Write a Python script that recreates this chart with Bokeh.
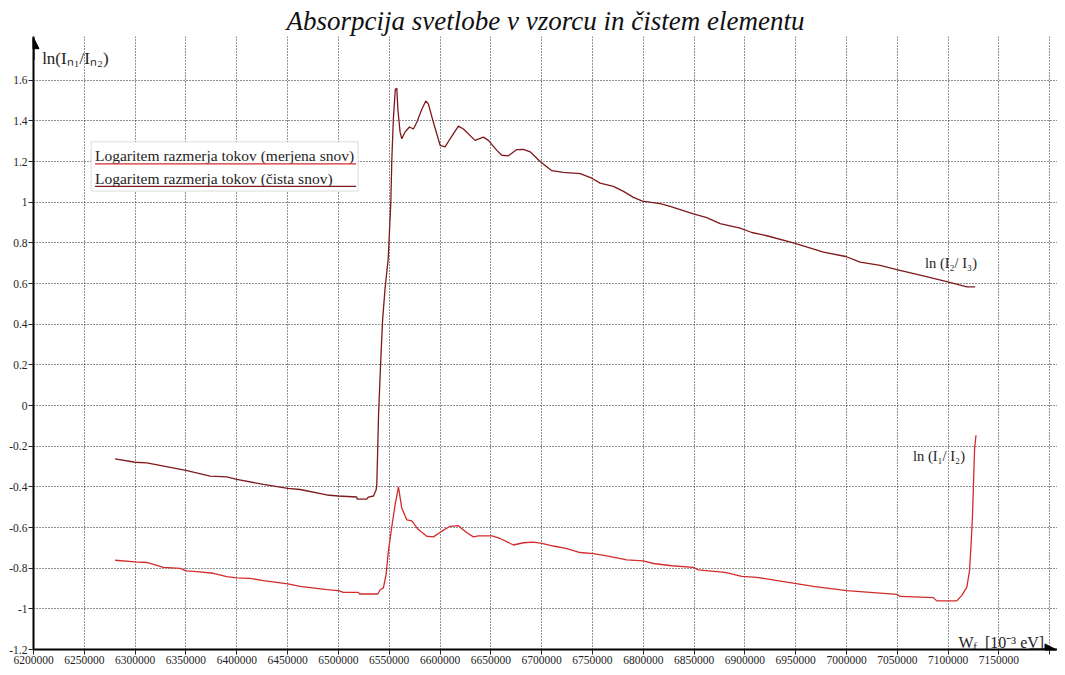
from bokeh.plotting import figure
from bokeh.models import Range1d, FixedTicker, Arrow, NormalHead, BoxAnnotation
from bokeh.core.properties import value
from bokeh.embed import file_html
from bokeh.resources import INLINE

# ---------------- data ----------------
title_text = "Absorpcija svetlobe v vzorcu in čistem elementu"
y_axis_title = "ln(Iₙ₁/Iₙ₂)"
legend_labels = ["Logaritem razmerja tokov (merjena snov)", "Logaritem razmerja tokov (čista snov)"]
curve_labels = ["ln (I₂/ I₃)", "ln (I₁/ I₂)"]

x_ticks = [6200000 + 50000 * i for i in range(21)]
x_tick_labels = ["6200000", "6250000", "6300000", "6350000", "6400000", "6450000", "6500000",
                 "6550000", "6600000", "6650000", "6700000", "6750000", "6800000", "6850000",
                 "6900000", "6950000", "7000000", "7050000", "7100000", "7150000", ""]
y_ticks = [-1.2, -1.0, -0.8, -0.6, -0.4, -0.2, 0.0, 0.2, 0.4, 0.6, 0.8, 1.0, 1.2, 1.4, 1.6]
y_tick_labels = ["-1.2", "-1", "-0.8", "-0.6", "-0.4", "-0.2", "0", "0.2", "0.4", "0.6",
                 "0.8", "1", "1.2", "1.4", "1.6"]

# ln(I2/I3) - pure element (upper curve)
upper_x = [6280300, 6300000, 6311500, 6350000, 6373800, 6390200, 6400000, 6426200, 6450200,
           6462300, 6488600, 6500000, 6518100, 6518500, 6528000, 6529500, 6534500, 6537100,
           6537800, 6538800, 6539500, 6541500, 6543500, 6546000, 6549000, 6551600, 6552600,
           6554100, 6556000, 6557500, 6558500, 6560700, 6562400, 6565600, 6569900, 6573800,
           6577200, 6582100, 6586000, 6588600, 6593500, 6600100, 6605000, 6609900, 6618100,
           6623000, 6634500, 6642700, 6647600, 6655900, 6660800, 6667300, 6675600, 6682100,
           6688700, 6698500, 6710000, 6721400, 6737900, 6749400, 6757500, 6770600, 6780500,
           6790300, 6799200, 6816600, 6826400, 6849300, 6862500, 6875600, 6895300, 6906800,
           6921600, 6949400, 6977300, 6999300, 7013400, 7033100, 7049500, 7072400, 7099700,
           7118400, 7126600]
upper_y = [-0.262, -0.279, -0.282, -0.319, -0.347, -0.351, -0.363, -0.388, -0.408,
           -0.413, -0.44, -0.445, -0.45, -0.46, -0.46, -0.45, -0.445, -0.416,
           -0.39, -0.198, -0.05, 0.2, 0.42, 0.58, 0.72, 1.0, 1.21,
           1.41, 1.555, 1.56, 1.457, 1.345, 1.312, 1.345, 1.37, 1.36,
           1.393, 1.457, 1.498, 1.482, 1.393, 1.28, 1.272, 1.312, 1.374,
           1.36, 1.304, 1.32, 1.304, 1.255, 1.231, 1.228, 1.259, 1.26,
           1.248, 1.2, 1.155, 1.147, 1.141, 1.118, 1.094, 1.078, 1.053,
           1.024, 1.005, 0.993, 0.98, 0.943, 0.924, 0.895, 0.872, 0.851,
           0.835, 0.798, 0.754, 0.733, 0.705, 0.689, 0.668, 0.641, 0.608,
           0.584, 0.584]

# ln(I1/I2) - measured sample (lower curve)
lower_x = [6280300, 6300000, 6311500, 6327800, 6344300, 6350200, 6360700, 6377000, 6390200,
           6400000, 6413100, 6426200, 6450200, 6462300, 6488600, 6500000, 6504900, 6519700,
           6520700, 6538800, 6541100, 6544300, 6547000, 6549200, 6552600, 6555800, 6559100,
           6562400, 6567300, 6572200, 6578700, 6587000, 6593500, 6601800, 6609900, 6618100,
           6626400, 6632900, 6637800, 6651000, 6659100, 6672200, 6682100, 6691900, 6700200,
           6711600, 6724800, 6737900, 6750900, 6764100, 6783800, 6800100, 6810000, 6828100,
           6849300, 6854300, 6880500, 6896900, 6911700, 6941200, 6967400, 7000300, 7049500,
           7052800, 7085500, 7088800, 7108500, 7113500, 7118400, 7121000, 7122400, 7124000,
           7125000, 7126000, 7127400]
lower_y = [-0.761, -0.769, -0.772, -0.796, -0.801, -0.813, -0.817, -0.825, -0.842,
           -0.848, -0.85, -0.861, -0.877, -0.89, -0.906, -0.91, -0.919, -0.919,
           -0.927, -0.927, -0.906, -0.897, -0.829, -0.716, -0.594, -0.489, -0.4,
           -0.505, -0.562, -0.567, -0.61, -0.643, -0.646, -0.618, -0.594, -0.591,
           -0.626, -0.646, -0.641, -0.641, -0.654, -0.686, -0.675, -0.672, -0.678,
           -0.691, -0.704, -0.723, -0.728, -0.74, -0.759, -0.764, -0.777, -0.788,
           -0.796, -0.808, -0.821, -0.84, -0.845, -0.869, -0.89, -0.91, -0.929,
           -0.939, -0.945, -0.961, -0.961, -0.934, -0.893, -0.813, -0.699, -0.537,
           -0.376, -0.214, -0.146]

# ---------------- styles ----------------
C_UPPER = "#7d1a1c"
C_LOWER = "#d22c2c"
SERIF = "Liberation Serif"
TXT = "#1e1e1e"

X0, X1 = 6200000, 7207600
Y0, Y1 = -1.2, 1.815

p = figure(width=1057, height=667, output_backend="svg", toolbar_location=None,
           x_range=Range1d(X0, X1), y_range=Range1d(Y0, Y1),
           min_border_left=33, min_border_right=0, min_border_bottom=18, min_border_top=36,
           title=title_text)
p.outline_line_color = None
p.background_fill_color = "white"
p.border_fill_color = "white"

p.title.text_font = SERIF
p.title.text_font_style = "italic"
p.title.text_font_size = "27px"
p.title.text_font_style = "italic"
p.title.text_color = "#111111"
p.title.align = "center"
p.title.standoff = 2

for ax in (p.xaxis[0], p.yaxis[0]):
    ax.axis_line_width = 2
    ax.axis_line_color = "black"
    ax.major_tick_in = 0
    ax.major_tick_out = 5
    ax.major_tick_line_color = "#222222"
    ax.minor_tick_line_color = None
    ax.major_label_text_font = SERIF
    ax.major_label_text_font_size = "11.5px"
    ax.major_label_text_color = TXT
    ax.major_label_standoff = 1

p.xaxis.ticker = FixedTicker(ticks=x_ticks)
p.xaxis.major_label_overrides = {t: l for t, l in zip(x_ticks, x_tick_labels)}
p.yaxis.ticker = FixedTicker(ticks=y_ticks)
p.yaxis.major_label_overrides = {t: l for t, l in zip(y_ticks, y_tick_labels)}

for g in (p.xgrid[0], p.ygrid[0]):
    g.grid_line_color = "#202020"
    g.grid_line_dash = "1 2"
    g.grid_line_width = 1
    g.grid_line_alpha = 1.0

# axis arrow heads
p.add_layout(Arrow(end=NormalHead(size=11, fill_color="black", line_color="black"),
                   x_start=7180000, y_start=Y0, x_end=X1 - 1500, y_end=Y0,
                   line_color="black", line_width=2))
p.add_layout(Arrow(end=NormalHead(size=11, fill_color="black", line_color="black"),
                   x_start=X0, y_start=1.70, x_end=X0, y_end=Y1 - 0.006,
                   line_color="black", line_width=2))

# curves
p.line(upper_x, upper_y, line_color=C_UPPER, line_width=1.3)
p.line(lower_x, lower_y, line_color=C_LOWER, line_width=1.3)

# legend box
p.add_layout(BoxAnnotation(left=6256700, right=6519400, top=1.297, bottom=1.055,
                           fill_color="white", fill_alpha=1.0, line_color="#8a8a8a",
                           line_width=1, level="underlay"))
p.text(x=[6260500, 6260500], y=[1.232, 1.118], text=legend_labels,
       text_font=value(SERIF), text_font_size="15.5px", text_color=TXT,
       text_align="left", text_baseline="middle")
p.segment(x0=[6260500, 6260500], y0=[1.189, 1.078], x1=[6517500, 6517500], y1=[1.189, 1.078],
          line_color=[C_LOWER, C_UPPER], line_width=1.3)

# axis titles and curve labels
p.text(x=[6208500], y=[1.707], text=[y_axis_title], text_font=value(SERIF),
       text_font_size="17px", text_color=TXT, text_align="left", text_baseline="middle")
p.text(x=[7110200], y=[-1.165], text=["W"], text_font=value(SERIF),
       text_font_size="16px", text_color=TXT, text_align="left", text_baseline="middle")
p.text(x=[7124600], y=[-1.183], text=["f"], text_font=value(SERIF),
       text_font_size="11px", text_color=TXT, text_align="left", text_baseline="middle")
p.text(x=[7136300], y=[-1.165], text=["[10⁻³ eV]"], text_font=value(SERIF),
       text_font_size="16px", text_color=TXT, text_align="left", text_baseline="middle")
p.text(x=[7077200, 7065400], y=[0.70, -0.25], text=curve_labels, text_font=value(SERIF),
       text_font_size="14.5px", text_color=TXT, text_align="left", text_baseline="middle")

open("out.html", "w").write(file_html(p, INLINE))
